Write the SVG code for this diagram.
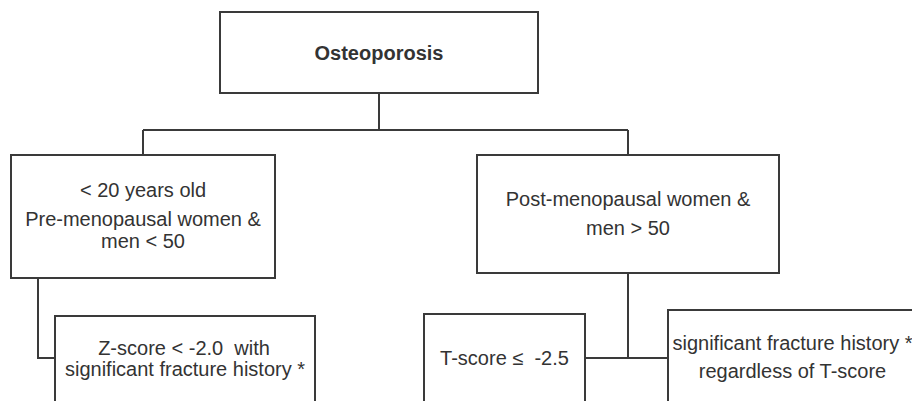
<svg xmlns="http://www.w3.org/2000/svg" width="912" height="401" viewBox="0 0 912 401">
<style>
.box{fill:#fff;stroke:#3a3a3a;stroke-width:2}
.ln{fill:none;stroke:#3a3a3a;stroke-width:2}
text{font-family:"Liberation Sans",Arial,sans-serif;font-size:20px;fill:#333;text-anchor:middle}
.b{font-weight:bold}
</style>
<rect width="912" height="401" fill="#fff"/>
<g id="connectors">
<path class="ln" d="M379 93V130M143 130H628M143 130V155M628 130V155"/>
<path class="ln" d="M38 278V358H55"/>
<path class="ln" d="M628 273V358M585 358H668"/>
</g>
<g id="n-osteo">
<rect class="box" x="220" y="12" width="318" height="81"/>
<text class="b" x="379" y="60">Osteoporosis</text>
</g>
<g id="n-young">
<rect class="box" x="11" y="155" width="264" height="123"/>
<text x="143" y="197">&lt; 20 years old</text>
<text x="143" y="226">Pre-menopausal women &amp;</text>
<text x="143" y="248">men &lt; 50</text>
</g>
<g id="n-post">
<rect class="box" x="477" y="155" width="302" height="118"/>
<text x="628" y="206">Post-menopausal women &amp;</text>
<text x="628" y="235">men &gt; 50</text>
</g>
<g id="n-z">
<rect class="box" x="55" y="316" width="260" height="100"/>
<text x="184" y="355" xml:space="preserve">Z-score &lt; -2.0  with</text>
<text x="185" y="376">significant fracture history *</text>
</g>
<g id="n-t">
<rect class="box" x="424" y="314" width="161" height="100"/>
<text x="504.5" y="365" xml:space="preserve">T-score ≤  -2.5</text>
</g>
<g id="n-sig">
<rect class="box" x="668" y="310" width="250" height="110"/>
<text x="792.5" y="350">significant fracture history *</text>
<text x="792.5" y="378">regardless of T-score</text>
</g>
</svg>
